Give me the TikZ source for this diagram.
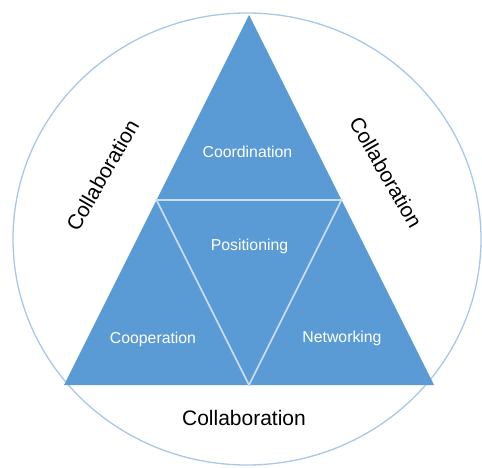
\documentclass[tikz,border=0pt]{standalone}
\usepackage{fontspec}
\setmainfont{Liberation Sans}
\definecolor{triblue}{HTML}{5B9BD5}
\definecolor{ringblue}{HTML}{A9C7E7}
\definecolor{sepblue}{HTML}{C9DEF2}
\begin{document}
\begin{tikzpicture}[x=1pt,y=-1pt,
  inlabel/.style={text=white,font=\fontsize{15.8}{18}\selectfont,anchor=base,inner sep=0pt},
  outlabel/.style={text=black,font=\fontsize{21}{24}\selectfont,inner sep=0pt}]
\useasboundingbox (0,0) rectangle (482,468);
\fill[white] (0,0) rectangle (482,468);
\draw[ringblue,line width=1.3pt] (247,239) ellipse [x radius=234, y radius=226];
\coordinate (A) at (249,15);
\coordinate (L) at (64,385);
\coordinate (R) at (434,385);
\coordinate (ML) at (156.5,200);
\coordinate (MR) at (341.5,200);
\coordinate (MB) at (249,385);
\fill[triblue] (A) -- (L) -- (R) -- cycle;
\draw[sepblue,line width=1.6pt] (ML) -- (MR) -- (MB) -- cycle;
\node[inlabel] (coord) at (247.5,157.3) {Coordination};
\node[inlabel] (pos) at (249.5,250) {Positioning};
\node[inlabel] (coop) at (153,343) {Cooperation};
\node[inlabel] (net) at (342,342.7) {Networking};
\node[outlabel,anchor=base] (cb) at (244,425.7) {Collaboration};
\node[outlabel,rotate=60] (cl) at (102.5,175) {Collaboration};
\node[outlabel,rotate=-60] (cr) at (386,172.5) {Collaboration};
\end{tikzpicture}
\end{document}
